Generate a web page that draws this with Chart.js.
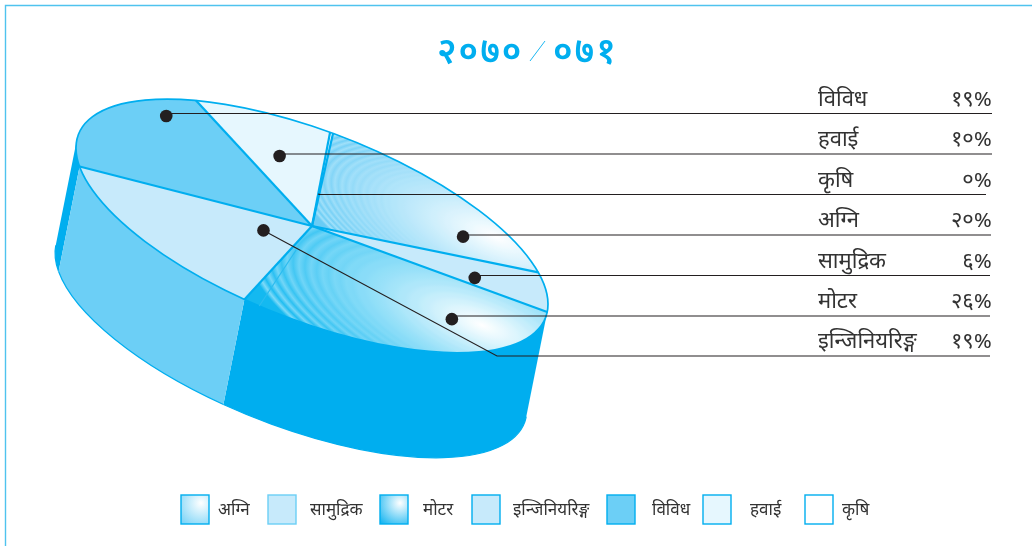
<!DOCTYPE html>
<html>
<head>
<meta charset="utf-8">
<style>
  html, body { margin: 0; padding: 0; background: #fff; }
  canvas { display: block; }
</style>
<script src="https://cdn.jsdelivr.net/npm/chart.js@4/dist/chart.umd.min.js"></script>
</head>
<body>
<canvas id="myChart" width="1032" height="546"></canvas>
<script>
const titleLeft = "२०७०";
const titleRight = "०७१";

// slice order, clockwise from the left of the pie
const categories = ["विविध", "हवाई", "कृषि", "अग्नि", "सामुद्रिक", "मोटर", "इन्जिनियरिङ्ग"];
const percentLabels = ["१९%", "१०%", "०%", "२०%", "६%", "२६%", "१९%"];
// slice sizes as drawn in the picture (they differ a little from the printed labels)
const sliceShares = [19.6, 9.4, 0.2, 19.0, 5.9, 28.3, 17.6];
const legendOrder = [3, 4, 5, 6, 0, 1, 2];

const BLUE = "#00aeef";
const MID = "#6ccff6";
const PALE = "#c7eafb";
const PALER = "#e6f7fe";
const INK = "#231f20";
const wallColors = [BLUE, BLUE, BLUE, BLUE, BLUE, BLUE, MID];

// projection of the unit circle on to the page
const pie = { cx: 312, cy: 226, a: 236, b: 78, c: 0, d: 100, wallX: -21, wallY: 105, rotation: 260 };
// where each leader starts inside its slice: share of the slice angle, share of the radius
const leaderAngle = [0.78, 0.485, 0.5, 0.78, 0.70, 0.33, 0.45];
const leaderRadius = [0.874, 0.609, 0.35, 0.751, 0.69, 0.756, 0.29];
const leaderY = [113.5, 154, 194.5, 235, 275.5, 316, 356];
const leaderEnd = [992, 992, 986, 991, 990, 990, 990];
const legendBoxX = [181, 268, 380, 472, 607, 703, 805];
const legendTextX = [218, 310, 423, 513, 652, 750, 842];
const legendBorders = [BLUE, MID, BLUE, BLUE, BLUE, BLUE, BLUE];

const FONT = "'Noto Sans Devanagari', 'Noto Sans', sans-serif";

function mix(c1, c2, t) {
  return c1.map((v, i) => Math.round(v + (c2[i] - v) * t));
}

function rgb(c) {
  return "rgb(" + c.join(",") + ")";
}

// radial fill with the rings that show in the printed gradient
function ringFill(ctx, x, y, r, inner, outer, ring, rings, depth) {
  const g = ctx.createRadialGradient(x, y, 0, x, y, r);
  for (let i = 0; i <= rings; i++) {
    const t = i / rings;
    const base = mix(inner, outer, t);
    g.addColorStop(t, rgb(i % 2 ? mix(base, ring, t * t * depth) : base));
  }
  return g;
}

function agniFill(c) {
  const R = Math.min(c.chart.width, c.chart.height) / 2;
  return ringFill(c.chart.ctx, c.chart.width / 2 + 0.78 * R, c.chart.height / 2 - 0.5 * R, 0.85 * R,
    [255, 255, 255], [105, 204, 245], [190, 235, 252], 56, 0.7);
}

function motarFill(c) {
  const R = Math.min(c.chart.width, c.chart.height) / 2;
  return ringFill(c.chart.ctx, c.chart.width / 2 + 0.72 * R, c.chart.height / 2 + 0.43 * R, 1.0 * R,
    [255, 255, 255], [20, 185, 240], [150, 225, 250], 40, 0.85);
}

const sliceFills = [MID, PALER, "#ffffff", agniFill, PALE, motarFill, PALE];

function unitPoint(u, v) {
  return { x: pie.cx + pie.a * u + pie.c * v, y: pie.cy + pie.b * u + pie.d * v };
}

function unitPath(ctx, dx, dy, from, to, back) {
  ctx.save();
  ctx.transform(pie.a, pie.b, pie.c, pie.d, pie.cx + dx, pie.cy + dy);
  ctx.arc(0, 0, 1, from, to, back);
  ctx.restore();
}

// the side of the drum only shows between the two points where it leaves the top ellipse
function visibleWall(s) {
  const t0 = Math.atan2(pie.c * pie.wallY - pie.d * pie.wallX, pie.a * pie.wallY - pie.b * pie.wallX);
  const parts = [];
  for (let k = 0; k < 3; k++) {
    const from = Math.max(s.startAngle, t0 + k * 2 * Math.PI);
    const to = Math.min(s.endAngle, t0 + Math.PI + k * 2 * Math.PI);
    if (to > from) parts.push([from, to]);
  }
  return parts;
}

const pie3d = {
  id: "pie3d",
  beforeDatasetsDraw(chart) {
    const ctx = chart.ctx;
    const arcs = chart.getDatasetMeta(0).data;
    arcs.forEach((s, i) => {
      visibleWall(s).forEach(([from, to]) => {
        ctx.beginPath();
        unitPath(ctx, 0, 0, from, to, false);
        unitPath(ctx, pie.wallX, pie.wallY, to, from, true);
        ctx.closePath();
        ctx.fillStyle = wallColors[i];
        ctx.fill();
        ctx.strokeStyle = BLUE;
        ctx.lineWidth = 1.2;
        ctx.beginPath();
        unitPath(ctx, pie.wallX, pie.wallY, from, to, false);
        ctx.stroke();
      });
    });
    // the library draws the top of the pie through this matrix
    const s = arcs[0];
    const R = s.outerRadius;
    ctx.save();
    ctx.translate(pie.cx, pie.cy);
    ctx.transform(pie.a / R, pie.b / R, pie.c / R, pie.d / R, 0, 0);
    ctx.translate(-s.x, -s.y);
  },
  afterDatasetsDraw(chart) {
    const ctx = chart.ctx;
    ctx.restore();
    const arcs = chart.getDatasetMeta(0).data;

    // outline and spokes
    ctx.strokeStyle = BLUE;
    ctx.lineWidth = 1.7;
    ctx.beginPath();
    unitPath(ctx, 0, 0, 0, Math.PI * 2, false);
    ctx.stroke();
    ctx.lineWidth = 2.2;
    arcs.forEach(s => {
      const p = unitPoint(Math.cos(s.startAngle), Math.sin(s.startAngle));
      ctx.beginPath();
      ctx.moveTo(pie.cx, pie.cy);
      ctx.lineTo(p.x, p.y);
      ctx.stroke();
    });

    // fine line printed inside the gradient slice, close to its end
    const inner = arcs[5].endAngle - 0.065;
    const p0 = unitPoint(0.3 * Math.cos(inner), 0.3 * Math.sin(inner));
    const p1 = unitPoint(Math.cos(inner), Math.sin(inner));
    ctx.strokeStyle = "#2bbcf0";
    ctx.lineWidth = 1.2;
    ctx.beginPath();
    ctx.moveTo(p0.x, p0.y);
    ctx.lineTo(p1.x, p1.y);
    ctx.stroke();

    // leaders
    arcs.forEach((s, i) => {
      const ang = s.startAngle + (s.endAngle - s.startAngle) * leaderAngle[i];
      const p = unitPoint(leaderRadius[i] * Math.cos(ang), leaderRadius[i] * Math.sin(ang));
      ctx.strokeStyle = INK;
      ctx.lineWidth = 1.1;
      ctx.beginPath();
      ctx.moveTo(p.x, p.y);
      if (i === 6) ctx.lineTo(497, leaderY[i]);
      else ctx.lineTo(p.x, leaderY[i]);
      ctx.lineTo(leaderEnd[i], leaderY[i]);
      ctx.stroke();
      if (i !== 2) {
        ctx.fillStyle = INK;
        ctx.beginPath();
        ctx.arc(p.x, p.y, 6.3, 0, Math.PI * 2);
        ctx.fill();
      }
      ctx.fillStyle = "#333";
      ctx.font = "22px " + FONT;
      ctx.textAlign = "left";
      ctx.fillText(categories[i], 818, leaderY[i] - 8);
      ctx.textAlign = "right";
      ctx.fillText(percentLabels[i], 992, leaderY[i] - 8);
    });

    // frame
    ctx.strokeStyle = "#4fc3ee";
    ctx.lineWidth = 1.4;
    ctx.beginPath();
    ctx.moveTo(5.5, 546);
    ctx.lineTo(5.5, 5.5);
    ctx.lineTo(1032, 5.5);
    ctx.stroke();

    // title
    ctx.fillStyle = BLUE;
    ctx.font = "600 36px " + FONT;
    ctx.letterSpacing = "2px";
    ctx.textAlign = "left";
    ctx.fillText(titleLeft, 437, 63);
    ctx.fillText(titleRight, 553, 63);
    ctx.letterSpacing = "0px";
    ctx.strokeStyle = BLUE;
    ctx.lineWidth = 0.9;
    ctx.beginPath();
    ctx.moveTo(530, 61);
    ctx.lineTo(545, 41);
    ctx.stroke();

    // legend
    legendOrder.forEach((cat, i) => {
      const x = legendBoxX[i];
      const fill = sliceFills[cat];
      if (typeof fill === "function") {
        const g = ctx.createRadialGradient(x + 20, 503, 0, x + 20, 503, 30);
        g.addColorStop(0, "#ffffff");
        g.addColorStop(1, cat === 5 ? BLUE : "#6ccff6");
        ctx.fillStyle = g;
      } else {
        ctx.fillStyle = fill;
      }
      ctx.fillRect(x, 495, 28, 29);
      ctx.strokeStyle = legendBorders[i];
      ctx.lineWidth = 1.4;
      ctx.strokeRect(x, 495, 28, 29);
      ctx.fillStyle = "#333";
      ctx.font = "17px " + FONT;
      ctx.textAlign = "left";
      ctx.fillText(categories[cat], legendTextX[i], 515);
    });
  }
};

new Chart(document.getElementById("myChart"), {
  type: "pie",
  data: {
    labels: categories,
    datasets: [{
      data: sliceShares,
      backgroundColor: c => {
        const f = sliceFills[c.dataIndex];
        return typeof f === "function" ? f(c) : f;
      },
      borderWidth: 0,
      clip: false
    }]
  },
  options: {
    responsive: false,
    animation: false,
    rotation: pie.rotation,
    layout: { padding: 0 },
    plugins: { legend: { display: false }, tooltip: { enabled: false } },
    events: []
  },
  plugins: [pie3d]
});
</script>
</body>
</html>
